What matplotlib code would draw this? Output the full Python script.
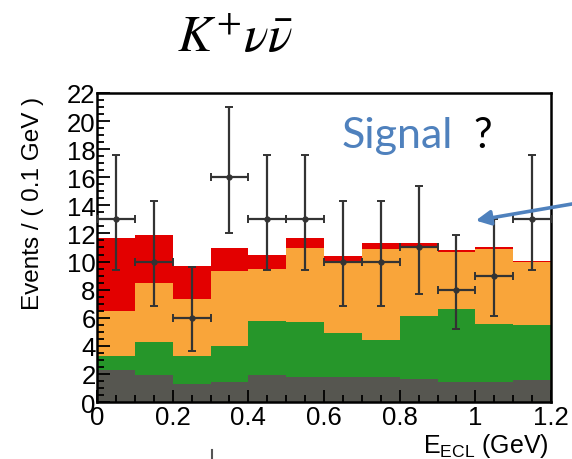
import numpy as np
import matplotlib
matplotlib.use('Agg')
import matplotlib.pyplot as plt
from matplotlib.lines import Line2D
from matplotlib.ticker import MultipleLocator

# 直方图分箱 (GeV)
bin_edges = [0.0, 0.1, 0.2, 0.3, 0.4, 0.5, 0.6, 0.7, 0.8, 0.9, 1.0, 1.1, 1.2]

# 各本底成分 (每箱事例数), 自下而上堆叠
bkg_gray = [2.25, 1.95, 1.3, 1.4, 1.95, 1.8, 1.75, 1.8, 1.65, 1.45, 1.45, 1.6]
bkg_green = [1.05, 2.3, 2.0, 2.6, 3.85, 3.9, 3.15, 2.6, 4.5, 5.15, 4.1, 3.85]
bkg_orange = [3.2, 4.25, 4.0, 5.35, 3.7, 5.25, 5.15, 6.5, 4.85, 4.05, 5.35, 4.55]
bkg_red = [5.15, 3.4, 2.4, 1.6, 0.95, 0.7, 0.35, 0.4, 0.3, 0.15, 0.1, 0.05]

# 数据点及非对称误差
data_x = [0.05, 0.15, 0.25, 0.35, 0.45, 0.55, 0.65, 0.75, 0.85, 0.95, 1.05, 1.15]
data_y = [13, 10, 6, 16, 13, 13, 10, 10, 11, 8, 9, 13]
err_lo = [3.6, 3.2, 2.4, 4.0, 3.6, 3.6, 3.2, 3.2, 3.3, 2.8, 2.9, 3.6]
err_hi = [4.6, 4.3, 3.6, 5.0, 4.6, 4.6, 4.3, 4.3, 4.4, 3.9, 4.0, 4.6]

colors = ['#565650', '#26962a', '#f9a53a', '#e30000']

fig = plt.figure(figsize=(5.72, 4.6), dpi=100)
ax = fig.add_axes([0.1696, 0.1239, 0.7937, 0.6718])

# ========== 堆叠直方图 ==========
base = np.zeros(len(bkg_gray))
for comp, c in zip([bkg_gray, bkg_green, bkg_orange, bkg_red], colors):
    top = base + np.array(comp)
    ax.stairs(top, bin_edges, baseline=base, fill=True, color=c, lw=0)
    base = top

ax.errorbar(data_x, data_y, xerr=0.05, yerr=[err_lo, err_hi], fmt='o',
            ms=3.5, color='#333333', ecolor='#333333', elinewidth=1.6,
            capsize=3, capthick=1.4, zorder=5)

ax.set_xlim(0, 1.2)
ax.set_ylim(0, 22)
ax.xaxis.set_major_locator(MultipleLocator(0.2))
ax.xaxis.set_minor_locator(MultipleLocator(0.05))
ax.yaxis.set_major_locator(MultipleLocator(2))
ax.yaxis.set_minor_locator(MultipleLocator(0.5))
ax.xaxis.set_major_formatter(plt.FuncFormatter(lambda v, p: f'{v:g}'))
ax.tick_params(which='both', direction='in', top=False, right=False,
               width=1.3, colors='black')
ax.tick_params(which='major', length=9)
ax.tick_params(which='minor', length=5)
ax.tick_params(axis='y', pad=1)
ax.tick_params(axis='x', pad=2.5)
for lab in ax.get_xticklabels() + ax.get_yticklabels():
    lab.set_fontfamily('Liberation Sans')
    lab.set_fontsize(18.5)
for s in ax.spines.values():
    s.set_linewidth(1.8)

ax.set_ylabel('Events / ( 0.1 GeV )', fontsize=17.5, family='Liberation Sans')
ax.yaxis.set_label_coords(-0.117, 0.645)
ax.text(0.996, -0.138, r'E$_{\mathregular{ECL}}$ (GeV)', transform=ax.transAxes,
        ha='right', va='center', fontsize=18, family='Liberation Sans')

# 标题
fig.text(235 / 572, 1 - 38 / 460, r'$K^{+}\nu\bar{\nu}$', ha='center', va='center',
         fontsize=37, math_fontfamily='stix')

# 注释文字与箭头
fig.text(342 / 572, 1 - 148 / 460, 'Signal', color='#4F81BD', fontsize=31,
         family='Lato', va='baseline', ha='left')
fig.text(473 / 572, 1 - 148 / 460, '?', color='black', fontsize=30,
         family='Lato', va='baseline', ha='left')
fig.add_artist(matplotlib.patches.FancyArrowPatch(
    (1.01, 1 - 204 / 460), (473 / 572, 1 - 222 / 460),
    transform=fig.transFigure, arrowstyle='-|>', mutation_scale=22,
    lw=2.6, color='#4F81BD'))

fig.add_artist(Line2D([212 / 572, 212 / 572], [0, 9 / 460], color='#555555', lw=1.5))

plt.savefig('out.png', dpi=100)
